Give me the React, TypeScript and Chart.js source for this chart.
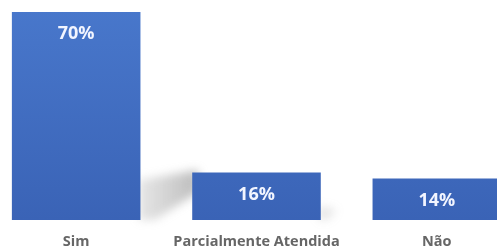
import React, { useEffect, useRef } from "react";
import { Chart, registerables } from "chart.js";

Chart.register(...registerables);

const categories = ["Sim", "Parcialmente Atendida", "Não"];
const values = [70, 16, 14];
const valueLabels = ["70%", "16%", "14%"];

const FONT = "'Open Sans', 'Noto Sans', sans-serif";

const shadowPlugin = {
  id: "barShadow",
  beforeDatasetsDraw(chart: any) {
    const meta = chart.getDatasetMeta(0);
    const bars = meta.data;
    const ctx = chart.ctx;
    ctx.save();
    ctx.filter = "blur(5px)";
    if (bars.length > 1) {
      const b0 = bars[0];
      const b1 = bars[1];
      const x1 = b0.x + b0.width / 2;
      const x2 = b1.x - b1.width / 2 + 6;
      const base = b0.base;
      const g = ctx.createLinearGradient(x1, 0, x2, 0);
      g.addColorStop(0, "rgba(150,150,150,0.25)");
      g.addColorStop(1, "rgba(120,120,120,0.5)");
      ctx.fillStyle = g;
      ctx.beginPath();
      ctx.moveTo(x1 - 2, base - 40);
      ctx.lineTo(x2, base - 50);
      ctx.lineTo(x2, base - 28);
      ctx.lineTo(x1 + 14, base);
      ctx.lineTo(x1 - 2, base);
      ctx.closePath();
      ctx.fill();
    }
    if (bars.length > 2) {
      const b1 = bars[1];
      const x1 = b1.x + b1.width / 2;
      const base = b1.base;
      ctx.fillStyle = "rgba(120,120,120,0.2)";
      ctx.beginPath();
      ctx.moveTo(x1 - 2, base - 14);
      ctx.lineTo(x1 + 16, base - 10);
      ctx.lineTo(x1 + 6, base);
      ctx.lineTo(x1 - 2, base);
      ctx.closePath();
      ctx.fill();
    }
    ctx.restore();
  },
};

const labelPlugin = {
  id: "valueLabels",
  afterDatasetsDraw(chart: any) {
    const meta = chart.getDatasetMeta(0);
    const ctx = chart.ctx;
    ctx.save();
    ctx.fillStyle = "#f2f5ff";
    ctx.font = `bold 18px ${FONT}`;
    ctx.textAlign = "center";
    ctx.textBaseline = "middle";
    meta.data.forEach((bar: any, i: number) => {
      ctx.fillText(valueLabels[i], bar.x, bar.y + 22);
    });
    ctx.restore();
  },
};

export default function App() {
  const canvasRef = useRef<HTMLCanvasElement | null>(null);

  useEffect(() => {
    if (!canvasRef.current) return;
    const chart = new Chart(canvasRef.current, {
      type: "bar",
      data: {
        labels: categories,
        datasets: [
          {
            data: values,
            backgroundColor: (c: any) => {
              const area = c.chart.chartArea;
              if (!area) return "#4472c4";
              const g = c.chart.ctx.createLinearGradient(0, area.top, 0, area.bottom);
              g.addColorStop(0, "#4877cb");
              g.addColorStop(1, "#3a63b6");
              return g;
            },
            borderWidth: 0,
            barPercentage: 0.713,
            categoryPercentage: 1,
          },
        ],
      },
      options: {
        animation: false,
        responsive: true,
        maintainAspectRatio: false,
        layout: { padding: { top: 12, bottom: 0, left: 0, right: 0 } },
        plugins: { legend: { display: false }, tooltip: { enabled: false } },
        scales: {
          x: {
            grid: { display: false, drawTicks: false },
            border: { display: false },
            ticks: {
              color: "#666666",
              font: { family: FONT, size: 14.5, weight: "bold" },
              padding: 13,
            },
            afterFit: (scale: any) => {
              scale.height = 30;
            },
          },
          y: {
            display: false,
            min: 0,
            max: 70,
          },
        },
      },
      plugins: [shadowPlugin, labelPlugin],
    });
    return () => chart.destroy();
  }, []);

  return (
    <div
      style={{
        position: "fixed",
        left: 0,
        top: 0,
        width: 497,
        height: 250,
        overflow: "hidden",
        background: "#ffffff",
      }}
    >
      <div style={{ position: "absolute", left: -14, top: 0, width: 541, height: 250 }}>
        <canvas ref={canvasRef} />
      </div>
    </div>
  );
}
